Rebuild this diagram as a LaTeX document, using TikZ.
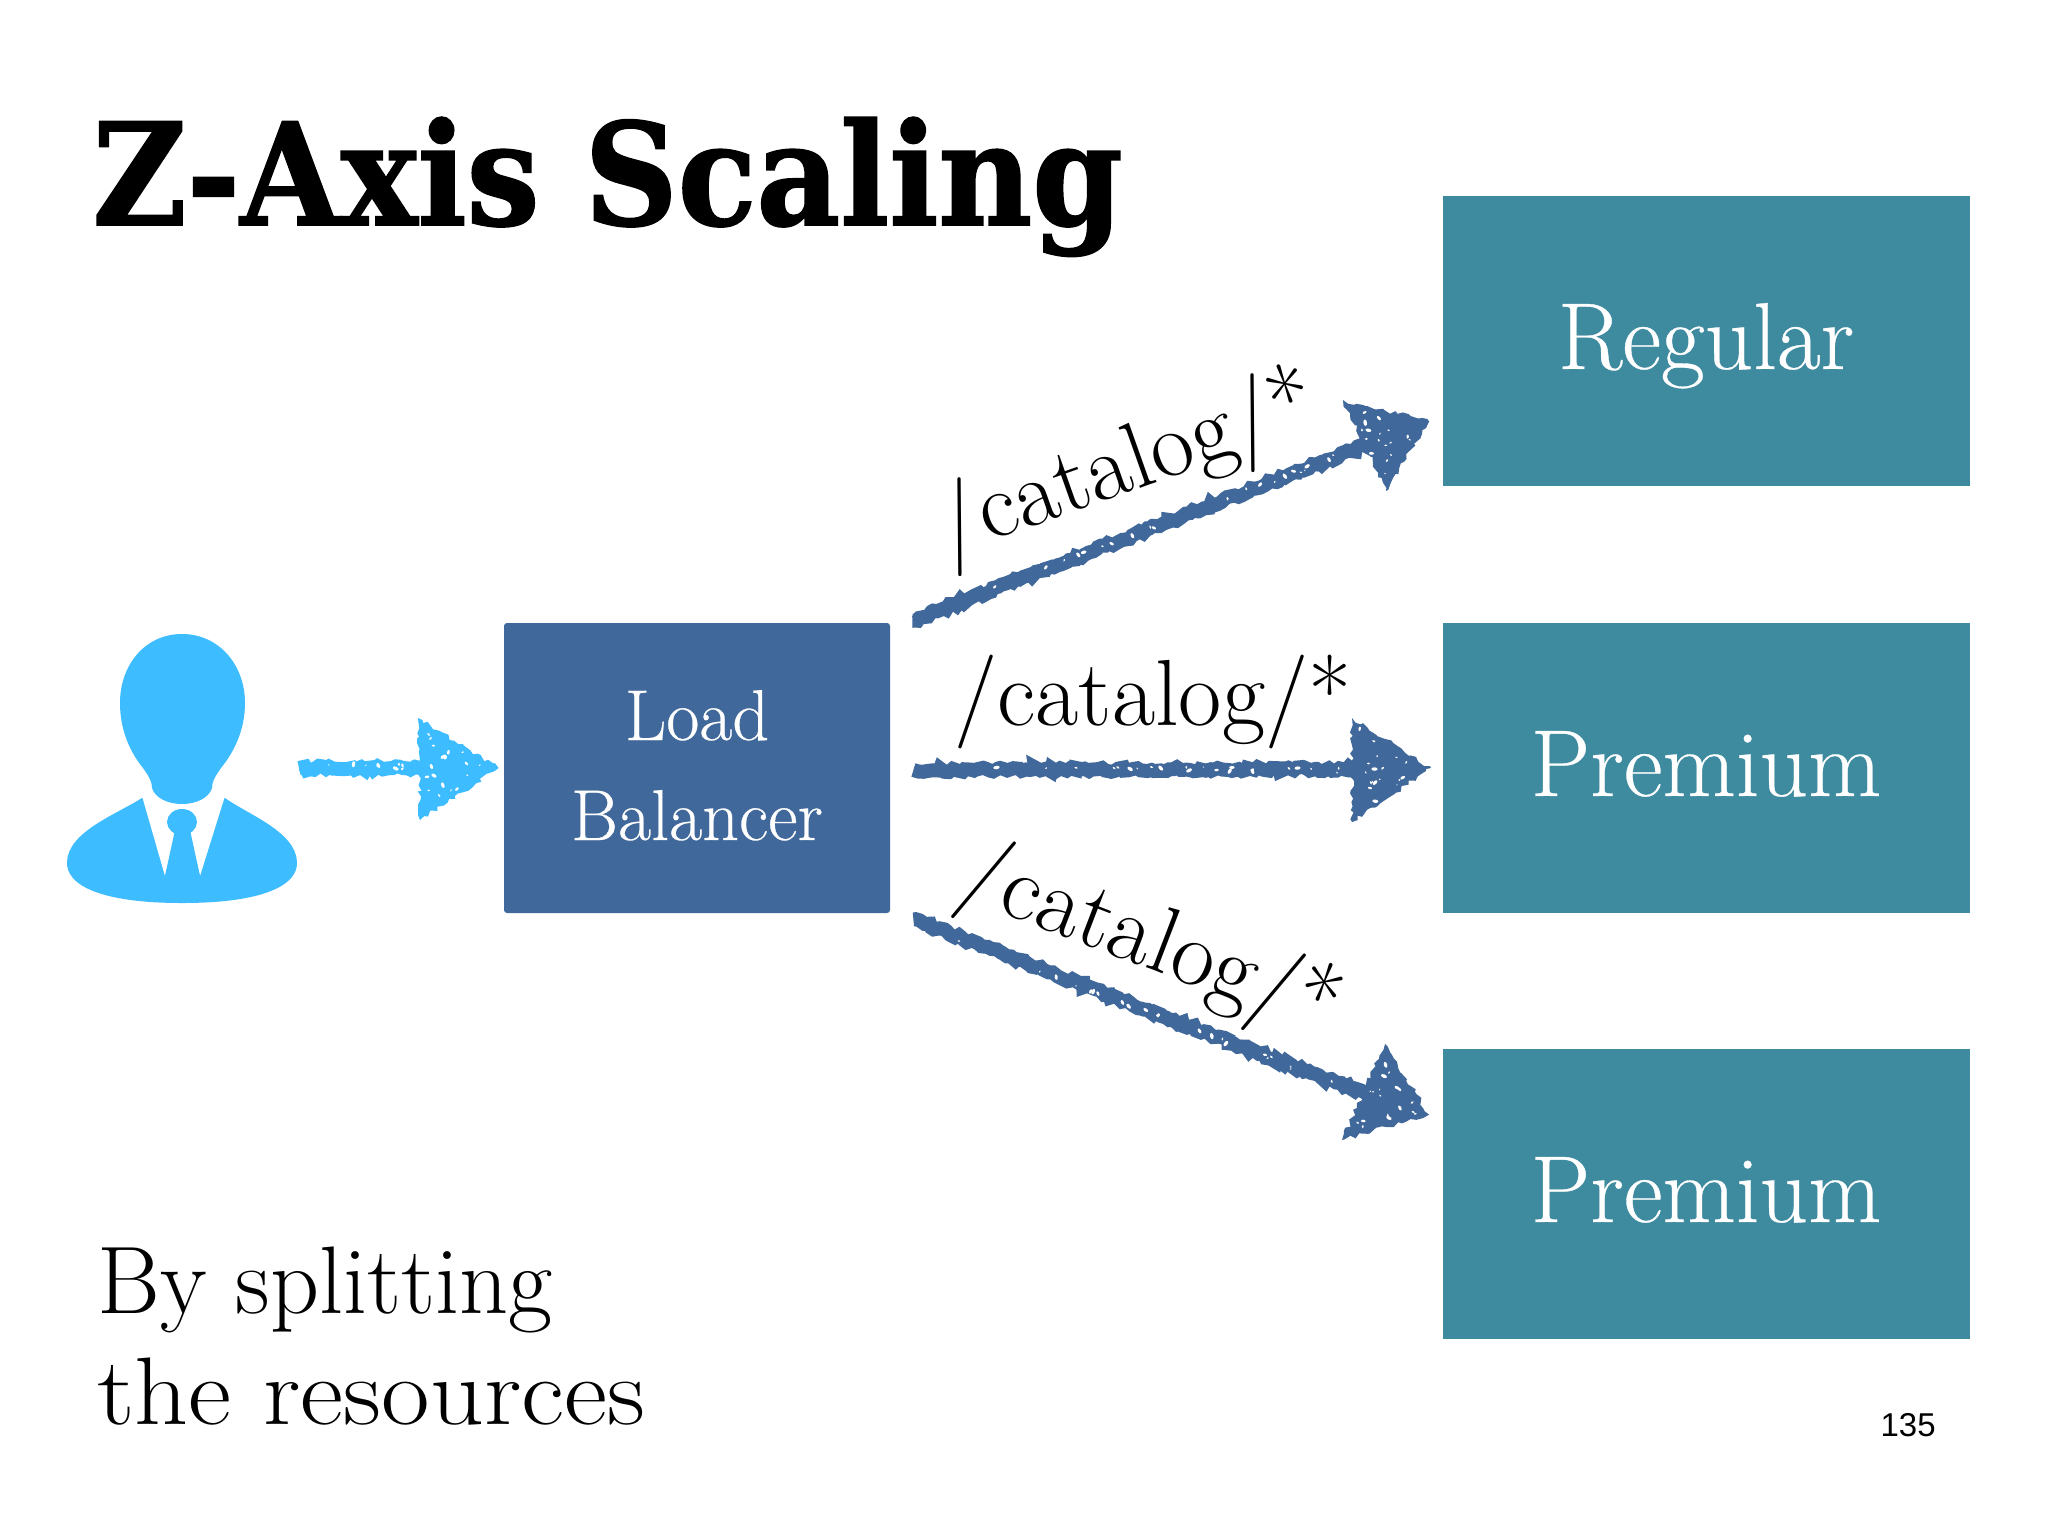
\documentclass[tikz,border=0pt]{standalone}
\usepackage{fontspec}
\usetikzlibrary{calc,decorations.pathmorphing}
\newfontfamily\titlefont{DejaVu Serif}[FakeStretch=0.91,FakeBold=1.2]
\newfontfamily\numfont{Liberation Sans}
\newfontfamily\lmfat{Latin Modern Roman}[FakeBold=0.35]
\definecolor{teal1}{HTML}{3E8A9F}
\definecolor{lbblue}{HTML}{41689A}
\definecolor{skyb}{HTML}{3DBCFF}
\newcommand{\sz}[1]{\fontsize{#1}{#1}\selectfont}
\newcommand{\specks}[7]{% count, triangle corners x1 y1 x2 y2 x3 y3 in px
  \foreach \k in {1,...,#1}{
    \pgfmathsetmacro{\ra}{rnd}\pgfmathsetmacro{\rb}{rnd}
    \pgfmathsetmacro{\ua}{\ra+\rb>1?1-\ra:\ra}
    \pgfmathsetmacro{\ub}{\ra+\rb>1?1-\rb:\rb}
    \pgfmathsetmacro{\px}{#2+\ua*(#4-#2)+\ub*(#6-#2)}
    \pgfmathsetmacro{\py}{#3+\ua*(#5-#3)+\ub*(#7-#3)}
    \pgfmathsetmacro{\rr}{0.5+1.3*rnd}
    \pgfmathsetmacro{\rq}{360*rnd}
    \fill[white,rotate around={\rq:(\px,\py)}] (\px,\py) ellipse[x radius=\rr,y radius=\rr*1.8];
  }}
\begin{document}
\begin{tikzpicture}[x=0.5pt,y=-0.5pt,
  box/.style={rectangle,minimum width=263.5pt,minimum height=145pt,inner sep=0pt,fill=teal1,text=white,
     text height=28pt,text depth=0pt,font=\lmfat\sz{47.5}},
  lbtext/.style={font=\lmfat\sz{36},text=white,inner sep=0pt,anchor=base},
  shaft/.style={line width=7pt,decorate,decoration={random steps,segment length=2pt,amplitude=1.1pt}},
  head/.style={decorate,decoration={random steps,segment length=2.2pt,amplitude=1.2pt}},
  route/.style={font=\sz{47},text=black,inner sep=0pt,anchor=base}]
\pgfmathsetseed{4217}
\useasboundingbox (0,0) rectangle (2048,1536);
\fill[white] (0,0) rectangle (2048,1536);
% title and text
\node[anchor=base west,inner sep=0pt,font=\titlefont\bfseries\sz{71}] (title) at (92,225) {Z-Axis Scaling};
\node[anchor=base west,inner sep=0pt,font=\sz{48}] (by) at (97,1313) {By splitting};
\node[anchor=base west,inner sep=0pt,font=\sz{48}] (res) at (97,1424) {\scalebox{1.1}[1]{the resources}};
\node[anchor=base east,inner sep=0pt,font=\numfont\sz{16.5}] (num) at (1936,1436) {135};
% boxes
\node[box] (regular) at (1706,341) {Regular};
\node[box] (prem1) at (1706,768) {Premium};
\node[box] (prem2) at (1706,1194) {Premium};
\node[rectangle,rounded corners=1.5pt,minimum width=193pt,minimum height=145pt,inner sep=0pt,fill=lbblue,text=white] (lb) at (697,768) {};
\node[lbtext] (load) at (697,740) {Load};
\node[lbtext] (bal) at (697,840) {Balancer};
% person
\coordinate (person) at (182,768);
\fill[skyb] (142,798) .. controls (115,815) and (68,832) .. (67,862)
  .. controls (66,885) and (100,903) .. (182,903)
  .. controls (264,903) and (298,885) .. (297,862)
  .. controls (296,832) and (249,815) .. (225,798) -- cycle;
\fill[white] (142,796) -- (165,876) -- (175,835) -- (190,835) -- (200,876) -- (225,796) -- cycle;
\fill[skyb] (182,822) ellipse[x radius=15,y radius=13];
\fill[skyb] (175,830) -- (165,876) -- (200,876) -- (190,830) -- cycle;
\fill[skyb] (182,634) .. controls (145,634) and (120,665) .. (120,703)
  .. controls (120,730) and (130,752) .. (143,768)
  .. controls (150,778) and (152,782) .. (152,788)
  .. controls (155,798) and (168,804) .. (182,804)
  .. controls (196,804) and (209,798) .. (212,788)
  .. controls (212,782) and (214,778) .. (221,768)
  .. controls (234,752) and (245,730) .. (245,703)
  .. controls (245,665) and (219,634) .. (182,634) -- cycle;
% arrow end coordinates
\coordinate (a0s) at ($(person)+(117,0)$);
\coordinate (a0b) at (430,768);
\coordinate (a0t) at ($(lb.west)+(-5,0)$);
\coordinate (a1s) at ($(lb.north east)+(22,-2)$);
\coordinate (a1b) at (1370,444);
\coordinate (a1t) at ($(regular.south west)+(-13,-65)$);
\coordinate (a2s) at ($(lb.east)+(23,2)$);
\coordinate (a2b) at (1365,769);
\coordinate (a2t) at ($(prem1.west)+(-11,0)$);
\coordinate (a3s) at ($(lb.south east)+(23,6)$);
\coordinate (a3b) at (1370,1096);
\coordinate (a3t) at ($(prem2.north west)+(-13,66)$);
% arrows
\draw[shaft,draw=skyb] (a0s) -- (a0b);
\fill[head,fill=skyb] (a0t) -- (418,718) -- (420,820) -- cycle;
\specks{18}{490}{768}{425}{725}{425}{812}
\specks{10}{310}{764}{420}{764}{420}{770}
\draw[shaft,draw=lbblue] (a1s) -- (a1b);
\fill[head,fill=lbblue] (a1t) -- (1343,400) -- (1386,491) -- cycle;
\specks{18}{1420}{424}{1350}{408}{1385}{484}
\specks{22}{920}{616}{1340}{458}{1340}{452}
\draw[shaft,draw=lbblue] (a2s) -- (a2b);
\fill[head,fill=lbblue] (a2t) -- (1352,718) -- (1352,822) -- cycle;
\specks{18}{1420}{769}{1358}{725}{1358}{815}
\specks{22}{920}{767}{1345}{767}{1345}{773}
\draw[shaft,draw=lbblue] (a3s) -- (a3b);
\fill[head,fill=lbblue] (a3t) -- (1385,1044) -- (1342,1140) -- cycle;
\specks{18}{1420}{1116}{1383}{1052}{1350}{1134}
\specks{22}{920}{926}{1340}{1088}{1340}{1082}
% route labels
\node[route,rotate=19.5] (r1) at (1135,490) {/catalog/*};
\node[route] (r2) at (1153,725) {/catalog/*};
\node[route,rotate=-21] (r3) at (1141,966) {/catalog/*};
\end{tikzpicture}
\end{document}
